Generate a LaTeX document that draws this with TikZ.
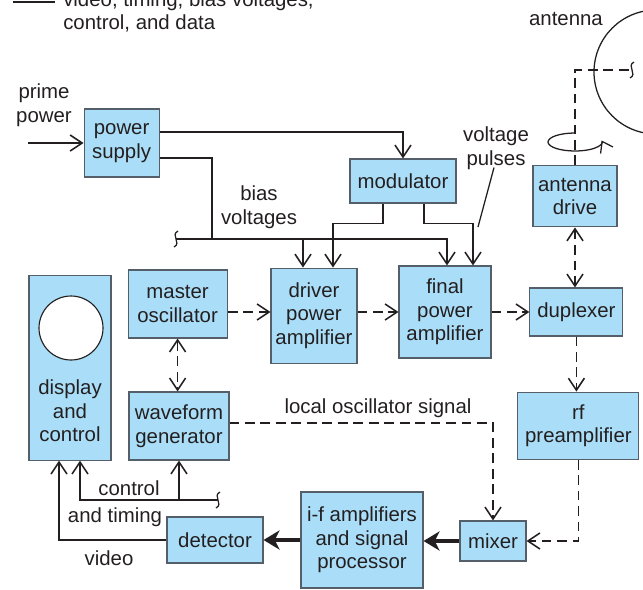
\documentclass[tikz,border=0pt]{standalone}
\usepackage{fontspec}
\setmainfont{Liberation Sans}
\usetikzlibrary{arrows.meta,calc}
\definecolor{boxblue}{RGB}{170,222,248}
\definecolor{boxline}{RGB}{85,95,105}
\definecolor{ink}{RGB}{35,31,32}

\begin{document}
\begin{tikzpicture}[
  x=1cm,y=1cm,
  font=\fontsize{14.5}{16.8}\selectfont,
  blk/.style={draw=boxline, line width=0.8pt, fill=boxblue, align=center, inner sep=2pt, text=ink},
  lbl/.style={align=center, inner sep=0pt, text=ink},
  arr/.style={-{Straight Barb[length=3mm,width=4mm]}, line width=1.1pt, draw=ink},
  dsh/.style={dash pattern=on 7pt off 4pt, line width=1.1pt, draw=ink},
  darr/.style={arr, dsh},
  ddarr/.style={darr, {Straight Barb[length=3mm,width=4mm]}-{Straight Barb[length=3mm,width=4mm]}},
  thk/.style={-{Stealth[length=4mm,width=4.8mm,inset=1.2mm]}, line width=3.5pt, draw=ink},
  brk/.pic={\draw[ink, line width=0.9pt] (0.05,0.2) .. controls (-0.15,0.1) and (0.15,-0.1) .. (-0.05,-0.2);}
]
\useasboundingbox (0,0) rectangle (16.075,-14.75);
\clip (0,0) rectangle (16.075,-14.75);

\node[lbl, anchor=west, align=left] (lgd) at (1.575,-0.3) {video, timing, bias voltages,\\control, and data};
\draw[ink, line width=1.1pt] (0.325,-0.05) -- (1.375,-0.05);

\node[blk, minimum width=1.875cm, minimum height=1.7cm] (psup) at (3.04,-3.575) {power\\supply};
\node[blk, minimum width=2.65cm, minimum height=1.1cm] (modu) at (10.075,-4.525) {modulator};
\node[blk, minimum width=2.1cm, minimum height=1.525cm] (adrv) at (14.375,-4.91) {antenna\\drive};
\node[blk, minimum width=2.475cm, minimum height=1.7cm] (mosc) at (4.44,-7.6) {master\\oscillator};
\node[blk, minimum width=2.15cm, minimum height=2.375cm] (drv) at (7.85,-7.89) {driver\\power\\amplifier};
\node[blk, minimum width=2.3cm, minimum height=2.3cm] (fpa) at (11.125,-7.8) {final\\power\\amplifier};
\node[blk, minimum width=2.325cm, minimum height=1.2cm] (dup) at (14.41,-7.8) {duplexer};
\node[blk, minimum width=3.025cm, minimum height=1.675cm] (rfpa) at (14.46,-10.64) {rf\\preamplifier};
\node[blk, minimum width=2.05cm, minimum height=4.625cm] (disp) at (1.75,-9.19) {};
\node[circle, draw=ink, fill=white, line width=0.8pt, minimum size=1.6cm, inner sep=0pt] (scr) at (1.775,-8.2) {};
\node[lbl] (disptxt) at (1.75,-10.275) {display\\and\\control};
\node[blk, minimum width=2.5cm, minimum height=1.7cm] (wfg) at (4.475,-10.65) {waveform\\generator};
\node[blk, minimum width=2.4cm, minimum height=1.15cm] (det) at (5.375,-13.5) {detector};
\node[blk, minimum width=3.05cm, minimum height=2.4cm] (ifa) at (9.05,-13.5) {i-f amplifiers\\and signal\\processor};
\node[blk, minimum width=1.65cm, minimum height=1.0cm] (mix) at (12.325,-13.525) {mixer};
\node[circle, draw=ink, line width=0.9pt, minimum size=3.1cm, inner sep=0pt] (ant) at (16.4,-1.8) {};

\node[lbl] (pptxt) at (1.1,-2.625) {prime\\power};
\node[lbl] (anttxt) at (14.15,-0.475) {antenna};
\node[lbl] (biastxt) at (6.475,-5.175) {bias\\voltages};
\node[lbl] (vptxt) at (12.4,-3.7) {voltage\\pulses};
\node[lbl] (lotxt) at (9.45,-10.2) {local oscillator signal};
\node[lbl] (ctltxt) at (3.225,-12.2) {control};
\node[lbl] (timtxt) at (2.875,-12.925) {and timing};
\node[lbl] (vidtxt) at (2.725,-13.95) {video};

\coordinate (pp) at (0.7,-3.575);
\coordinate (bus) at (4.4,-5.975);
\coordinate (bj) at (5.3,-5.975);
\coordinate (ctl) at (5.45,-12.5);
\coordinate (aend) at (15.8,-1.75);
\coordinate (vpend) at (11.95,-5.675);
\coordinate (d1) at ([xshift=-0.275cm]drv.north);
\coordinate (d2) at ([xshift=0.475cm]drv.north);
\coordinate (f1) at ([xshift=0.05cm]fpa.north);
\coordinate (f2) at ([xshift=0.7cm]fpa.north);

\draw[arr] (pp) -- (psup.west);
\draw[arr] ([yshift=0.275cm]psup.east) -| (modu.north);
\draw[ink, line width=1.1pt] ([yshift=-0.375cm]psup.east) -| (bj);
\draw[arr] (bus) -| (f1);
\draw[arr] (d1 |- bus) -- (d1);
\draw[arr] ([xshift=-0.5cm]modu.south) -- ++(0,-0.5) -| (d2);
\draw[arr] ([xshift=0.525cm]modu.south) -- ++(0,-0.5) -| (f2);
\draw[ink, line width=0.9pt] ([xshift=-0.05cm,yshift=0.05cm]vptxt.south) -- (vpend);
\pic at (bus) {brk};

\draw[darr] (mosc.east |- dup.west) -- (drv.west |- dup.west);
\draw[darr] (drv.east |- dup.west) -- (fpa.west |- dup.west);
\draw[darr] (fpa.east |- dup.west) -- (dup.west);
\draw[ddarr] (mosc.south) -- (mosc.south |- wfg.north);
\draw[ddarr] (adrv.south) -- (adrv.south |- dup.north);
\draw[dsh] (adrv.north) |- (aend);
\pic at (aend) {brk};
\draw[arr, line width=0.9pt, -{Straight Barb[length=2.5mm,width=3.5mm]}] (14.375,-3.325) arc[start angle=90, end angle=370, x radius=0.675, y radius=0.225];
\draw[darr] (dup.south) -- (dup.south |- rfpa.north);
\draw[darr] (rfpa.south) |- (mix.east);
\draw[darr] ([yshift=0.075cm]wfg.east) -| (mix.north);

\draw[thk] (mix.west) -- (mix.west -| ifa.east);
\draw[thk] (ifa.west) -- (ifa.west -| det.east);
\draw[arr] (det.west) -| ([xshift=-0.275cm]disp.south);
\draw[arr] (ctl) -| ([xshift=0.25cm]disp.south);
\draw[arr] (wfg.south |- ctl) -- (wfg.south);
\pic at (ctl) {brk};
\end{tikzpicture}
\end{document}
